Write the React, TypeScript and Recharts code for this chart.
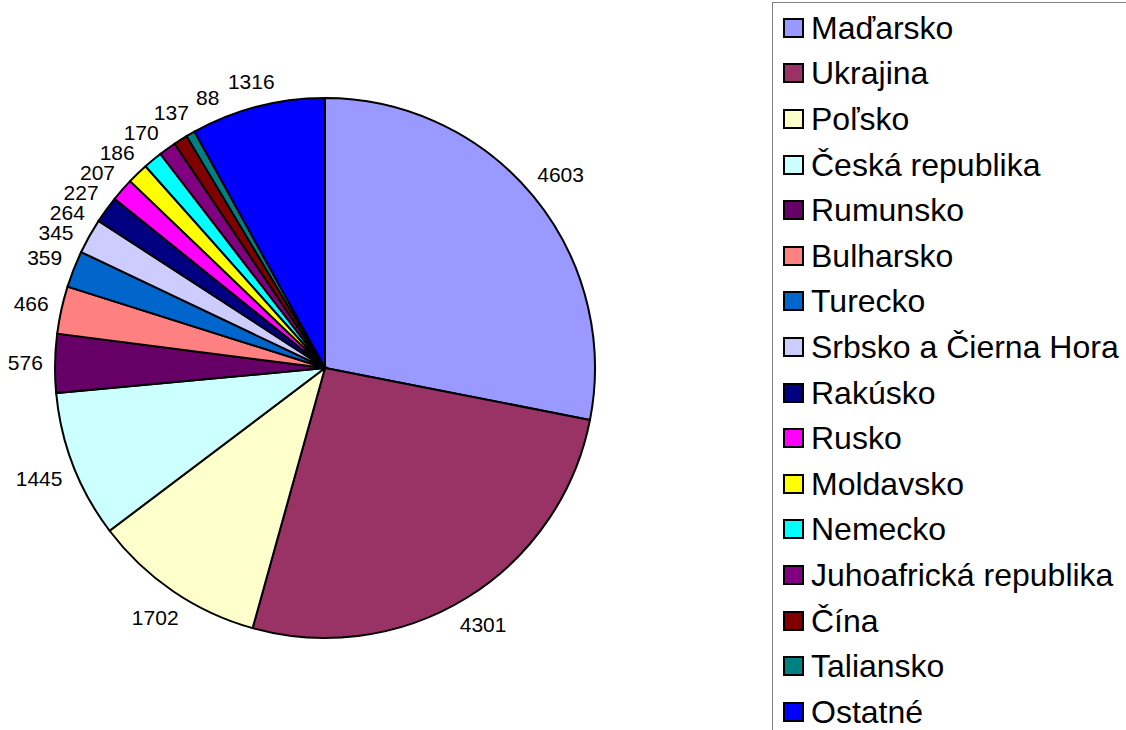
import { PieChart, Pie, Cell, Legend } from 'recharts';

const countries = [
  'Maďarsko',
  'Ukrajina',
  'Poľsko',
  'Česká republika',
  'Rumunsko',
  'Bulharsko',
  'Turecko',
  'Srbsko a Čierna Hora',
  'Rakúsko',
  'Rusko',
  'Moldavsko',
  'Nemecko',
  'Juhoafrická republika',
  'Čína',
  'Taliansko',
  'Ostatné',
];

const counts = [4603, 4301, 1702, 1445, 576, 466, 359, 345, 264, 227, 207, 186, 170, 137, 88, 1316];

const colors = [
  '#9999FF', '#993366', '#FFFFCC', '#CCFFFF', '#660066', '#FF8080', '#0066CC', '#CCCCFF',
  '#000080', '#FF00FF', '#FFFF00', '#00FFFF', '#800080', '#800000', '#008080', '#0000FF',
];

const data = countries.map((name, i) => ({ name, value: counts[i] }));

const RADIAN = Math.PI / 180;
const LABEL_FONT = 21;
const LABEL_HALF_H = 8;
const LABEL_STEP = 20;
const LABEL_GAP = 12;
const R = 270;
const DOWN_SHARE = 0.6;

// offsets of each label from the rim point at its slice's mid angle;
// crowded labels slide apart around the pie (a bit more downwards), keeping their order
const labelOffsets = (() => {
  const total = counts.reduce((a, b) => a + b, 0);
  let cum = 0;
  const boxes = counts.map((v) => {
    const mid = 90 - ((cum + v / 2) / total) * 360;
    cum += v;
    const dx = Math.cos(mid * RADIAN);
    const dy = -Math.sin(mid * RADIAN);
    const w = String(v).length * LABEL_FONT * 0.556;
    const d = LABEL_GAP + Math.abs(dx) * (w / 2) + Math.abs(dy) * LABEL_HALF_H;
    const rl = R + d;
    return { dx, dy, rl, x: dx * rl, y: dy * rl, by: dy * rl, w };
  });
  const place = (b: any) => {
    const lim = b.rl - 1;
    b.y = Math.max(-lim, Math.min(lim, b.y));
    b.x = Math.sign(b.dx) * Math.sqrt(b.rl * b.rl - b.y * b.y);
  };
  for (let it = 0; it < 300; it++) {
    for (let i = 0; i < boxes.length; i++) {
      const a = boxes[i];
      const b = boxes[(i + 1) % boxes.length];
      const overlapX = Math.abs(a.x - b.x) < (a.w + b.w) / 2 + 2;
      const lower = a.by >= b.by ? a : b;
      const upper = lower === a ? b : a;
      const gap = lower.y - upper.y;
      if (overlapX && gap < LABEL_STEP) {
        const need = LABEL_STEP - gap;
        lower.y += need * DOWN_SHARE;
        upper.y -= need * (1 - DOWN_SHARE);
        place(a);
        place(b);
      }
    }
  }
  return boxes.map((b) => ({ x: b.x - b.dx * R, y: b.y - b.dy * R }));
})();

const renderLabel = (props: any) => {
  const { cx, cy, midAngle, outerRadius, value, index } = props;
  const ax = cx + outerRadius * Math.cos(-midAngle * RADIAN);
  const ay = cy + outerRadius * Math.sin(-midAngle * RADIAN);
  const off = labelOffsets[index];
  return (
    <text
      x={ax + off.x}
      y={ay + off.y}
      fill="#000"
      fontSize={LABEL_FONT}
      fontFamily="Liberation Sans, Arial, sans-serif"
      textAnchor="middle"
      dominantBaseline="central"
    >
      {value}
    </text>
  );
};

const renderLegend = () => (
  <div
    style={{
      width: 360,
      height: 740,
      borderLeft: '1px solid #808080',
      borderTop: '1px solid #808080',
      boxSizing: 'border-box',
      paddingTop: 2,
      fontFamily: 'Liberation Sans, Arial, sans-serif',
    }}
  >
    {countries.map((name, i) => (
      <div
        key={name}
        style={{ display: 'flex', alignItems: 'center', height: 45.6, whiteSpace: 'nowrap' }}
      >
        <span
          style={{
            display: 'inline-block',
            width: 21,
            height: 20,
            boxSizing: 'border-box',
            border: '2px solid #000',
            background: colors[i],
            marginLeft: 10,
            marginRight: 7,
          }}
        />
        <span style={{ fontSize: 32, color: '#000', lineHeight: '32px' }}>{name}</span>
      </div>
    ))}
  </div>
);

export default function App() {
  return (
    <div style={{ width: 1126, height: 730, overflow: 'hidden' }}>
      <style>{`body{margin:0}`}</style>
      <PieChart width={1126} height={730} margin={{ top: 0, right: 0, bottom: 0, left: 0 }}>
        <Pie
          data={data}
          dataKey="value"
          nameKey="name"
          cx={325}
          cy={368}
          outerRadius={R}
          startAngle={90}
          endAngle={-270}
          stroke="#000"
          strokeWidth={2}
          label={renderLabel}
          labelLine={false}
          isAnimationActive={false}
        >
          {data.map((d, i) => (
            <Cell key={d.name} fill={colors[i]} />
          ))}
        </Pie>
        <Legend
          content={renderLegend}
          layout="vertical"
          align="right"
          verticalAlign="top"
          wrapperStyle={{ left: 772, top: 2, width: 360 }}
        />
      </PieChart>
    </div>
  );
}
